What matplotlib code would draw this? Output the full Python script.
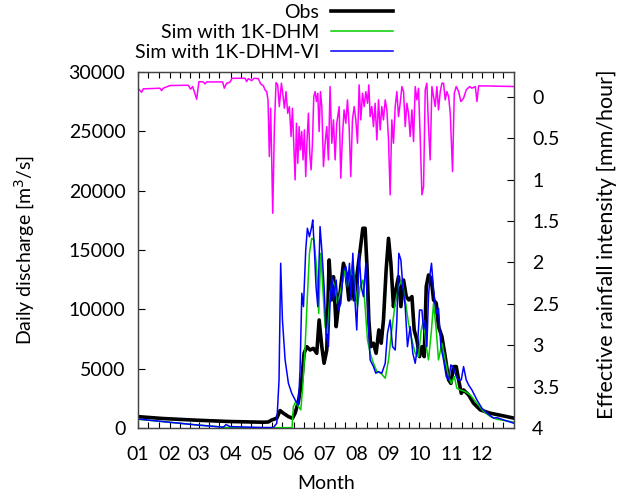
import numpy as np
import matplotlib
matplotlib.use("Agg")
import matplotlib.pyplot as plt
from matplotlib.ticker import FixedLocator

plt.rcParams['font.family'] = ['Lato', 'DejaVu Sans']
plt.rcParams['font.size'] = 14

# month labels (tick at first day of each month)
month_starts = [0, 31, 59, 90, 120, 151, 181, 212, 243, 273, 304, 334]
month_labels = ['01', '02', '03', '04', '05', '06', '07', '08', '09', '10', '11', '12']

# Observed daily discharge [m3/s] (day of year, value)
obs_day = [0, 24.6, 57, 89, 121.7, 126.5, 129.8, 134.7, 137.9, 141.1, 146, 149.9, 152.5, 155.7,
           159, 161.2, 163.8, 167, 170.3, 173.5, 175.8, 178.4, 180.6, 183.2, 185.5, 187.7, 189.7,
           192.3, 194.5, 196.8, 199.4, 202, 204.6, 207.2, 209.8, 212.3, 215.6, 218.2, 220.4, 222.4,
           224, 225.9, 228.5, 231.1, 233.7, 236, 238.2, 240.8, 243.1, 245.4, 247.9, 250.2, 252.8,
           255.1, 257.7, 260.3, 262.8, 265.8, 268, 270.6, 273.2, 275.5, 277.7, 279.7, 281.9, 284.5,
           286.8, 289.4, 291.6, 294.9, 298.1, 301.4, 303.6, 306.2, 308.8, 311.1, 313.7, 315.9,
           320.8, 325.6, 332.1, 341.8, 354.8, 365]
obs_q = [950, 790, 650, 540, 480, 500, 670, 815, 1460, 1240, 955, 815, 1240, 2220,
         4050, 6290, 6850, 6570, 6710, 6290, 9100, 6850, 5450, 6570, 14160, 10790, 12750,
         8540, 10230, 11910, 13880, 13030, 10790, 12750, 10790, 12750, 15000, 16830, 16830, 13310,
         9100, 6850, 7140, 6290, 8260, 7140, 9100, 13310, 15980, 13880, 10230, 11630, 12750,
         10230, 12470, 11070, 10790, 11070, 8260, 7420, 6010, 6850, 6010, 11910, 12890, 12610,
         10790, 10510, 8540, 7700, 6010, 4050, 3760, 5170, 5170, 4050, 2920, 3200,
         2780, 2080, 1520, 1240, 1010, 820]

# Simulation with 1K-DHM
dhm_day = [0, 24.6, 57, 80, 86, 100, 121.7, 149.5, 150.8, 153.1, 155.7, 158, 159.9, 162.2, 164.4,
           166.4, 168.6, 170.9, 173.5, 175.4, 177.4, 179.3, 181.6, 183.9, 186.4, 188.7, 191.3,
           193.6, 196.2, 198.7, 201, 203.3, 205.9, 208.5, 210.7, 213, 215.6, 218.2, 220.4, 222.7,
           225.3, 228.5, 231.8, 235.7, 239.9, 243.1, 246.3, 249.6, 252.8, 256.1, 259.3, 262.5,
           265.8, 269, 272.2, 274.8, 277.1, 279.7, 281.9, 284.5, 286.8, 289.4, 291.6, 294.9,
           298.1, 301.4, 303.9, 306.9, 309.4, 312.7, 317.5, 322.4, 328.9, 335.4, 341.8, 348.3,
           358, 365]
dhm_q = [730, 530, 250, 90, 30, 20, 20, 20, 1800, 2220, 1800, 1520, 3480, 6850, 11070,
         14720, 15980, 15840, 13310, 9660, 14720, 11910, 8540, 7980, 11350, 12470, 11910,
         10510, 11350, 12470, 13310, 11910, 12750, 14160, 11910, 10230, 11910, 12470, 10230, 7420,
         6290, 5450, 4750, 4610, 4190, 5730, 8260, 10510, 11910, 12470, 10790, 8820,
         7420, 6290, 6010, 8260, 9100, 6850, 5730, 7980, 10510, 8260, 5730, 7140,
         5730, 4330, 3760, 4330, 3340, 3200, 3060, 2780, 2080, 1380, 960, 730,
         590, 480]

# Simulation with 1K-DHM-VI
vi_day = [0, 24.6, 57, 82.9, 85.5, 89.3, 121.7, 131.4, 134.7, 136.9, 138.5, 140.2, 142.8, 146,
          149.2, 152.5, 155.7, 157.3, 159, 160.6, 162.8, 164.4, 166.4, 168.6, 169.6, 171.2, 172.8,
          174.5, 176.7, 178.4, 180.6, 182.6, 184.8, 186.4, 188.1, 189.7, 192.3, 194.5, 196.8,
          199.4, 201.7, 203.3, 205.2, 206.8, 208.5, 210.1, 212.3, 214.6, 216.6, 218.8, 221.1,
          222.7, 225.3, 228.5, 230.8, 233.4, 236.6, 239.9, 242.1, 244.7, 247, 249.6, 251.2,
          253.1, 255.1, 257, 259.3, 261.5, 264.1, 266.7, 269, 271.2, 273.2, 275.5, 277.1,
          278.7, 280.3, 281.9, 283.5, 284.8, 286.8, 289.4, 291.6, 293.9, 296.5, 299.1, 301.4,
          303.6, 306.2, 308.8, 311.1, 313.7, 315.9, 318.5, 320.8, 324, 328.9, 333.7, 338.6,
          345.1, 348.3, 354.8, 365]
vi_q = [750, 530, 250, 60, 280, 110, 30, 30, 390, 4050, 13880, 9100, 5730, 3760,
        2920, 2360, 1940, 4890, 11350, 10230, 15000, 16830, 16120, 16970, 17530, 15000, 11910,
        10230, 16970, 15000, 11910, 7980, 6850, 10510, 12750, 10790, 12470, 9940, 10510,
        13310, 13600, 11910, 13880, 10790, 14720, 11350, 8260, 14720, 11910, 11070, 13880,
        10510, 5730, 5170, 4610, 4750, 4610, 5450, 7980, 9100, 6850, 6570, 9100,
        14720, 14160, 11910, 10230, 6850, 8540, 6290, 5450, 6850, 9940, 9940, 8260,
        9100, 6850, 11070, 13030, 13880, 11630, 9660, 10090, 6850, 5730, 4330, 4050,
        5310, 5030, 4330, 4050, 4050, 5170, 4050, 3620, 3200, 2360, 1660, 1240,
        820, 870, 670, 390]

# Effective rainfall intensity [mm/hour]
rain_day = [0, 3.6, 5.2, 21.4, 23, 24.6, 31.1, 48.9, 51.1, 53.1, 57, 59.2, 63.4, 65.1, 66.7,
            82.2, 83.8, 86.1, 89.3, 91.3, 103.9, 105.5, 107.1, 110.4, 112.6, 116.8, 119.1,
            121.7, 123.3, 124.9, 126.2, 127.5, 128.8, 130.8, 132.4, 134, 135.6, 137.2, 139.2,
            140.5, 142.1, 143.7, 145.3, 146.9, 148.6, 149.9, 151.2, 152.5, 153.8, 155.1, 156.4,
            157.6, 158.9, 160.2, 161.5, 162.8, 164.1, 165.4, 166.7, 168, 169.3, 170.6, 171.9,
            173.2, 174.5, 175.8, 177.1, 178.4, 180, 181.6, 183.2, 184.8, 186.4, 188.1, 189.7,
            191.3, 192.9, 195.2, 196.8, 198.4, 200, 201.7, 203.3, 204.9, 206.5, 208.1, 209.8,
            211.4, 213, 214.6, 216.2, 217.9, 219.5, 221.1, 222.7, 224, 225.3, 226.9, 228.5,
            230.1, 231.8, 233.4, 235, 236.6, 238.2, 239.9, 241.5, 243.1, 244.7, 246.3, 247.9,
            249.6, 251.2, 252.8, 254.4, 256.1, 257.7, 259.3, 260.9, 262.5, 264.1, 265.8, 267.4,
            269, 270.6, 272.2, 273.8, 275.5, 277.1, 278.7, 280.3, 281.9, 283.5, 285.2, 286.8,
            288.4, 290, 291.6, 293.3, 294.9, 296.5, 298.1, 299.7, 301.4, 303, 305.2, 306.9,
            308.8, 311.1, 313.3, 315.9, 318.5, 321.8, 324, 327.3, 328.9, 330.5, 335.4, 365]
rain = [-0.105, -0.056, -0.097, -0.105, -0.076, -0.105, -0.137, -0.141, -0.093, -0.125, 0.028,
        -0.185, -0.181, -0.157, -0.181,
        -0.181, -0.105, -0.165, -0.177, -0.225, -0.225, -0.185, -0.221, -0.197, -0.225, -0.221,
        -0.157,
        -0.133, -0.085, -0.064, 0.036, 0.721, 0.137, 1.406, 0.359, -0.173, -0.145, 0.117, -0.165,
        -0.044, 0.137, -0.064, 0.198, 0.117, 0.479, 0.137, 0.560, 1.003, 0.318, 0.802, 0.359,
        0.641, 0.419, 0.761, 0.399, 0.963, 0.520, 0.198, 0.681, 0.882, 0.560, -0.004, -0.064,
        0.056, -0.044, 0.419, -0.064, 0.117, 0.842, 0.560, 0.359, 0.761, -0.125, 0.560, 0.278,
        0.761, 0.318, 0.117, 0.983, 0.479, 0.157, 0.318, 0.036, 0.359, 0.963, 0.278, 0.117,
        0.278, 0.560, -0.145, 0.278, -0.044, 0.117, -0.064, 0.077, -0.145, 0.238, 0.117, 0.359,
        0.077, 0.520, 0.036, 0.399, 0.117, 0.278, 0.036, 0.157, 0.520, 1.184, 0.278, 0.560,
        0.117, -0.064, 0.238, 0.077, -0.125, -0.064, 0.359, 0.077, 0.198, 0.479, 0.157, 0.540,
        -0.125, 0.036, -0.105, 0.479, 1.184, 1.084, -0.085, -0.165, 0.359, 0.761, -0.125, -0.004,
        0.117, -0.125, 0.157, -0.064, -0.165, -0.165, 0.036, -0.064, -0.004, 0.198, 0.902, -0.044,
        -0.125, -0.064, 0.056, 0.016, -0.085, -0.125, -0.105, -0.125, 0.056, -0.133, -0.133, -0.125]

fig = plt.figure(figsize=(6.24, 4.97), dpi=100)
ax = fig.add_axes([0.221, 0.139, 0.603, 0.716])
ax2 = ax.twinx()

l_obs, = ax.plot(obs_day, obs_q, color='black', lw=2.6, label='Obs', zorder=3)
l_dhm, = ax.plot(dhm_day, dhm_q, color='#00cc00', lw=1.1, label='Sim with 1K-DHM', zorder=4)
l_vi, = ax.plot(vi_day, vi_q, color='#0000ff', lw=1.1, label='Sim with 1K-DHM-VI', zorder=5)
ax2.plot(rain_day, rain, color='#ff00ff', lw=1.1)

ax.set_xlim(0, 365)
ax.set_ylim(0, 30000)
ax2.set_ylim(4, -0.3)

ax.xaxis.set_major_locator(FixedLocator(month_starts))
ax.set_xticklabels(month_labels)
minor = [m + d for m in month_starts for d in (10, 20)]
ax.xaxis.set_minor_locator(FixedLocator(minor))
ax.set_yticks(np.arange(0, 30001, 5000))
ax2.set_yticks(np.arange(0, 4.01, 0.5))
ax2.set_yticklabels(['0', '0.5', '1', '1.5', '2', '2.5', '3', '3.5', '4'])

ax.tick_params(axis='x', which='both', direction='in', top=True, length=4, width=0.8, pad=13)
ax.tick_params(axis='y', direction='in', right=False, length=5, width=0.8, pad=9)
ax2.tick_params(axis='y', direction='in', length=5, width=0.8, pad=13)

for a in (ax, ax2):
    for s in a.spines.values():
        s.set_color('#444444')
        s.set_linewidth(0.9)

ax.set_xlabel('Month')
ax.xaxis.set_label_coords(0.5, -0.132)
ax.set_ylabel('Daily discharge [m$^3$/s]')
ax.yaxis.set_label_coords(-0.269, 0.5)
ax2.set_ylabel('Effective rainfall intensity [mm/hour]', fontsize=15.5)
ax2.yaxis.set_label_coords(1.221, 0.515)

fig.legend(handles=[l_obs, l_dhm, l_vi], loc='upper right', bbox_to_anchor=(393 / 624, 0.992),
           frameon=False, markerfirst=False, borderpad=0, borderaxespad=0,
           handlelength=3.2, handletextpad=0.6, labelspacing=0.16)

fig.savefig('out.png', dpi=100)
